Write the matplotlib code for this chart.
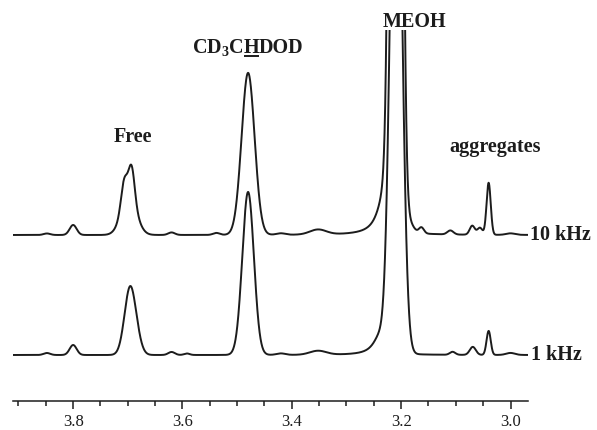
import numpy as np
import matplotlib
matplotlib.use("Agg")
import matplotlib.pyplot as plt
from matplotlib.ticker import MultipleLocator

plt.rcParams.update({"font.family": "Liberation Serif", "mathtext.fontset": "custom",
                     "mathtext.rm": "Liberation Serif:bold", "mathtext.it": "Liberation Serif:bold",
                     "mathtext.bf": "Liberation Serif:bold"})
INK = "#1c1c1c"

# ---- peak tables (ppm, height, gaussian sigma in ppm) ----
PPM_10K = [3.848, 3.800, 3.698, 3.693, 3.707, 3.620, 3.538, 3.480, 3.420, 3.352, 3.2097, 3.184,
           3.163, 3.110, 3.070, 3.056, 3.040, 3.000]
HEIGHT_10K = [1.5, 10, 38, 33, 24, 2.5, 2, 162, 1.5, 5, 2000, 8, 6, 4, 9, 7, 52, 1.5]
SIGMA_10K = [0.006, 0.0064, 0.0137, 0.0055, 0.0055, 0.006, 0.006, 0.0119, 0.008, 0.015, 0.00786,
             0.0073, 0.0046, 0.0055, 0.0046, 0.0046, 0.0038, 0.008]
# lorentzian foot of the methanol line (ppm, height, half width in ppm)
WING_PPM_10K, WING_HEIGHT_10K, WING_HW_10K = [3.2318], [40], [0.0146]

PPM_1K = [3.848, 3.800, 3.696, 3.683, 3.620, 3.592, 3.480, 3.420, 3.352, 3.2093, 3.106, 3.069,
          3.040, 3.000]
HEIGHT_1K = [2, 10, 66, 8, 3, 1.5, 163, 1.5, 4, 624, 3, 8, 24, 2]
SIGMA_1K = [0.006, 0.0064, 0.0101, 0.009, 0.006, 0.005, 0.0106, 0.008, 0.015, 0.0102, 0.005,
            0.0055, 0.0038, 0.008]
WING_PPM_1K, WING_HEIGHT_1K, WING_HW_1K = [3.2404], [18], [0.0146]

TICKS = [3.8, 3.6, 3.4, 3.2, 3.0]
TRACE_LABELS = ["10 kHz", "1 kHz"]


def spectrum(ppm, pos, hgt, sig, wpos, whgt, whw):
    y = np.zeros_like(ppm)
    for c, h, s in zip(pos, hgt, sig):
        y += h * np.exp(-0.5 * ((ppm - c) / s) ** 2)
    for c, h, g in zip(wpos, whgt, whw):
        y += h / (1 + ((ppm - c) / g) ** 2)
    return y


fig = plt.figure(figsize=(5.97, 4.30), dpi=100)
ax = fig.add_axes([13 / 597, 29 / 430, 515 / 597, 371 / 430])
ppm = np.linspace(3.910, 2.968, 4000)
y10 = spectrum(ppm, PPM_10K, HEIGHT_10K, SIGMA_10K, WING_PPM_10K, WING_HEIGHT_10K, WING_HW_10K)
y1 = spectrum(ppm, PPM_1K, HEIGHT_1K, SIGMA_1K, WING_PPM_1K, WING_HEIGHT_1K, WING_HW_1K)
ax.plot(ppm, 166 + y10, color=INK, lw=1.4)
ax.plot(ppm, 46 + y1, color=INK, lw=1.4)

ax.set_xlim(3.910, 2.968); ax.set_ylim(0, 371)
ax.set_yticks([])
ax.xaxis.set_major_locator(plt.FixedLocator(TICKS))
ax.set_xticklabels([f"{t:.1f}" for t in TICKS])
ax.xaxis.set_minor_locator(MultipleLocator(0.05))
ax.tick_params(axis="x", which="major", length=6, width=1.1, direction="out", labelsize=12, pad=3.5, colors=INK)
ax.tick_params(axis="x", which="minor", length=3.5, width=1.1, direction="out", colors=INK)
for s in ("top", "right", "left"):
    ax.spines[s].set_visible(False)
ax.spines["bottom"].set_linewidth(1.1); ax.spines["bottom"].set_color(INK)

lab = dict(fontsize=14.5, fontweight="bold", color=INK, va="baseline")
ax.text(3.691, 259, "Free", ha="center", **lab)
ax.text(3.175, 374, "MEOH", ha="center", **lab)
ax.text(3.029, 249, "aggregates", ha="center", **lab)
ax.text(2.965, 161, TRACE_LABELS[0], ha="left", clip_on=False, **lab)
ax.text(2.962, 41, TRACE_LABELS[1], ha="left", clip_on=False, **lab)

# CD3CHDOD with the H underlined, built from three pieces
r = fig.canvas.get_renderer()
inv = ax.transData.inverted()
t1 = ax.text(3.583, 348, "CD$_3$C", ha="left", **lab)
x1 = inv.transform((t1.get_window_extent(r).x1, 0))[0]
t2 = ax.text(x1, 348, "H", ha="left", **lab)
x2 = inv.transform((t2.get_window_extent(r).x1, 0))[0]
ax.text(x2, 348, "DOD", ha="left", **lab)
ax.plot([x1, x2], [345, 345], color=INK, lw=1.4, clip_on=False, solid_capstyle="butt")

fig.savefig("out.png", dpi=100)
